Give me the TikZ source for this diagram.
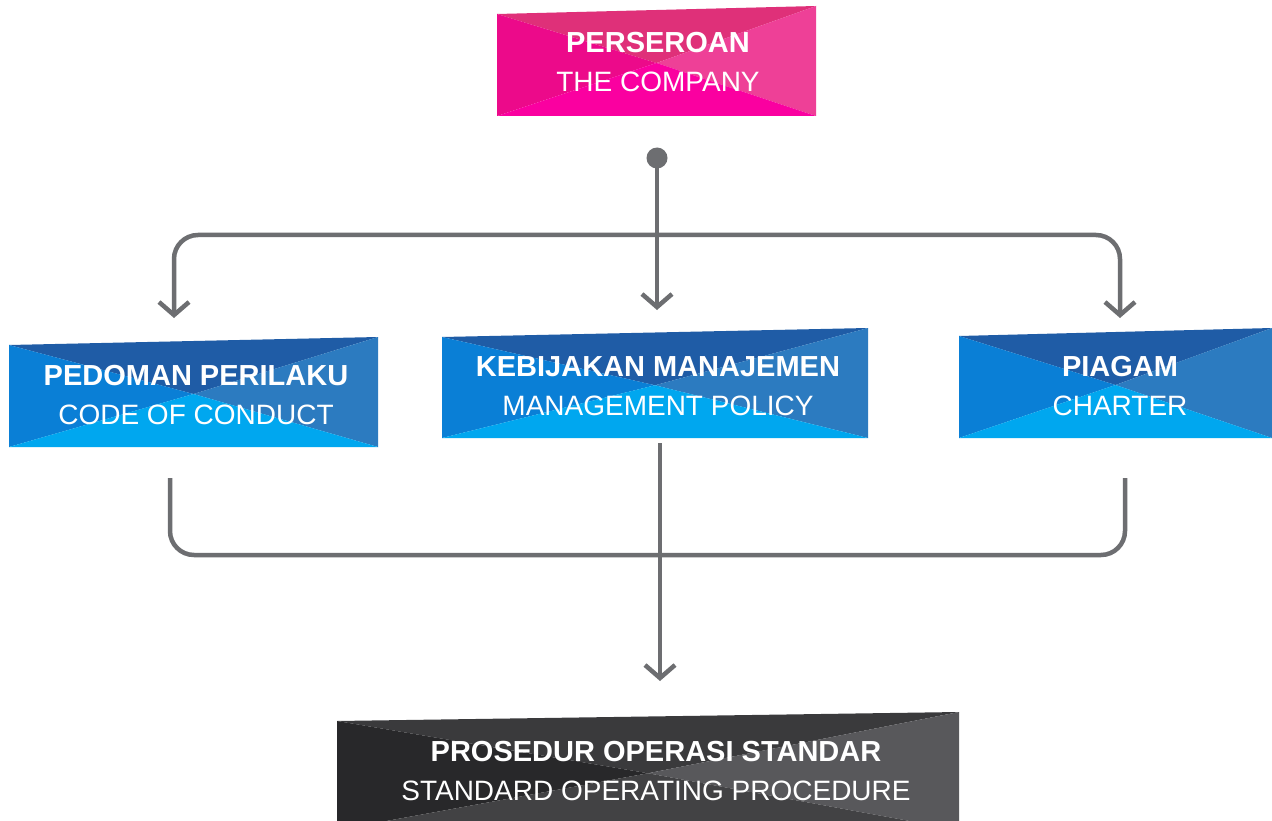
\documentclass[tikz,border=0pt]{standalone}
\usepackage{fontspec}
\setmainfont{Liberation Sans}
\usetikzlibrary{arrows.meta}
\definecolor{lineg}{HTML}{6D6E71}
\definecolor{pkT}{HTML}{DF3079}
\definecolor{pkL}{HTML}{EC0A8A}
\definecolor{pkR}{HTML}{EE4097}
\definecolor{pkB}{HTML}{FA00A0}
\definecolor{blT}{HTML}{1F5CA6}
\definecolor{blL}{HTML}{0A7FD6}
\definecolor{blR}{HTML}{2C7BC0}
\definecolor{blB}{HTML}{00A7EF}
\definecolor{gyT}{HTML}{3A3A3C}
\definecolor{gyL}{HTML}{28282A}
\definecolor{gyR}{HTML}{58585B}
\definecolor{gyB}{HTML}{424244}
% #1 x1, #2 yTL, #3 x2, #4 yTR, #5 yB, #6 top, #7 left, #8 right, #9 bottom
\newcommand\xpanel[9]{%
  \coordinate (tl) at (#1,#2);
  \coordinate (tr) at (#3,#4);
  \coordinate (br) at (#3,#5);
  \coordinate (bl) at (#1,#5);
  \coordinate (cc) at ({(#1+#3)/2},{(#2+#4)/4+#5/2});
  \fill[#6] (tl) -- (tr) -- (cc) -- cycle;
  \fill[#7] (tl) -- (bl) -- (cc) -- cycle;
  \fill[#8] (tr) -- (br) -- (cc) -- cycle;
  \fill[#9] (bl) -- (br) -- (cc) -- cycle;
}
\newcommand\hd[1]{{\fontsize{29}{39}\selectfont\bfseries #1}}
\begin{document}
\begin{tikzpicture}[x=1pt,y=-1pt,
  lbl/.style={text=white,align=center,inner sep=0pt,font=\fontsize{28}{39}\selectfont},
  conn/.style={draw=lineg,line width=4.5pt,rounded corners=24pt},
  tip/.style={-{Straight Barb[length=13pt,width=30pt,line width=4.5pt]}},
  tips/.style={{Straight Barb[length=13pt,width=30pt,line width=4.5pt]}-{Straight Barb[length=13pt,width=30pt,line width=4.5pt]}}]
\useasboundingbox (0,0) rectangle (1272,821);
\fill[white] (0,0) rectangle (1272,821);
% boxes
\xpanel{497}{14}{816}{6}{116}{pkT}{pkL}{pkR}{pkB}
\xpanel{9}{345}{378}{337}{447}{blT}{blL}{blR}{blB}
\xpanel{442}{337}{868}{328}{438}{blT}{blL}{blR}{blB}
\xpanel{959}{336}{1272}{328}{438}{blT}{blL}{blR}{blB}
\xpanel{337}{721}{959}{712}{830}{gyT}{gyL}{gyR}{gyB}
% labels
\node[lbl] (company) at (658,62) {\hd{PERSEROAN}\\THE COMPANY};
\node[lbl] (conduct) at (196,395) {\hd{PEDOMAN PERILAKU}\\CODE OF CONDUCT};
\node[lbl] (policy) at (658,386) {\hd{KEBIJAKAN MANAJEMEN}\\MANAGEMENT POLICY};
\node[lbl] (charter) at (1120,386) {\hd{PIAGAM}\\CHARTER};
\node[lbl] (sop) at (656,771) {\hd{PROSEDUR OPERASI STANDAR}\\STANDARD OPERATING PROCEDURE};
% connector anchors
\coordinate (dot) at (657,158);
\coordinate (hubL) at (174,235);
\coordinate (hubR) at (1120,235);
\coordinate (inL) at (174,318);
\coordinate (inM) at (657,310);
\coordinate (inR) at (1120,318);
\coordinate (outL) at (170,478);
\coordinate (outR) at (1125,478);
\coordinate (outM) at (660,443);
\coordinate (inS) at (660,681);
% top connectors
\fill[lineg] (dot) circle (10.5pt);
\draw[conn,tips] (inL) -- (hubL) -- (hubR) -- (inR);
\draw[conn,tip] (dot) -- (inM);
% bottom connectors
\draw[conn] (outL) -- (outL |- 0,555) -- (outR |- 0,555) -- (outR);
\draw[conn,tip] (outM) -- (inS);
\end{tikzpicture}
\end{document}
